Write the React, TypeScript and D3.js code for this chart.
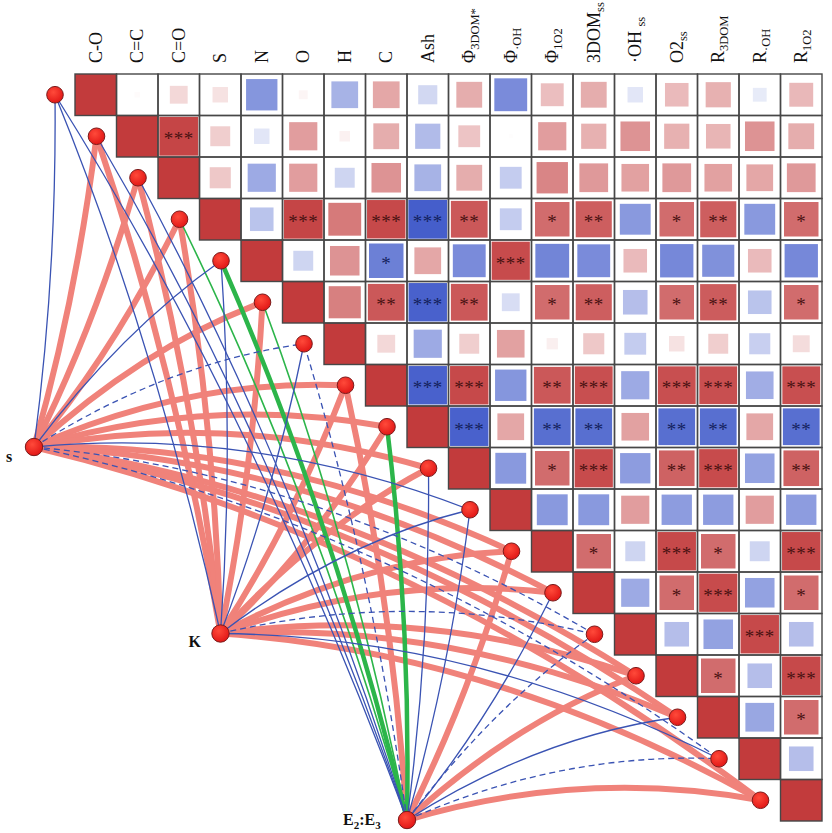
import React from "react";
import * as d3 from "d3";

// ---------- DATA ----------
const variableMain = ["C-O", "C=C", "C=O", "S", "N", "O", "H", "C", "Ash", "Φ", "Φ", "Φ", "3DOM", "·OH ", "O2", "R", "R", "R"];
const variableSub = ["", "", "", "", "", "", "", "", "", "3DOM*", "·OH", "1O2", "ss", "ss", "ss", "3DOM", "·OH", "1O2"];

// upper triangle correlations, row i holds columns i+1..17
const corrUpper: number[][] = [
  [0.02, 0.2, 0.15, -0.62, 0.05, -0.45, 0.45, -0.23, 0.42, -0.68, 0.33, 0.42, -0.15, 0.35, 0.4, -0.12, 0.36],
  [0.95, 0.25, -0.15, 0.5, 0.07, 0.42, -0.4, 0.3, 0.01, 0.5, 0.4, 0.55, 0.4, 0.38, 0.55, 0.42],
  [0.28, -0.5, 0.5, -0.25, 0.55, -0.45, 0.42, -0.3, 0.62, 0.52, 0.48, 0.52, 0.48, 0.45, 0.52],
  [-0.35, 0.95, 0.68, 0.93, -0.95, 0.85, -0.3, 0.75, 0.82, -0.6, 0.75, 0.82, -0.6, 0.75],
  [-0.25, 0.55, -0.75, 0.45, -0.68, 0.92, -0.72, -0.68, 0.35, -0.7, -0.65, 0.35, -0.7],
  [0.65, 0.85, -0.93, 0.85, -0.2, 0.75, 0.82, -0.38, 0.75, 0.83, -0.35, 0.75],
  [0.2, -0.5, 0.25, 0.48, 0.08, 0.28, -0.3, 0.15, 0.25, -0.28, 0.18],
  [-0.93, 0.93, -0.62, 0.85, 0.9, -0.5, 0.9, 0.9, -0.48, 0.9],
  [-0.93, 0.45, -0.85, -0.85, 0.48, -0.85, -0.85, 0.45, -0.85],
  [-0.6, 0.75, 0.92, -0.58, 0.8, 0.92, -0.55, 0.8],
  [-0.6, -0.6, 0.5, -0.58, -0.58, 0.5, -0.58],
  [0.75, -0.25, 0.93, 0.75, -0.25, 0.93],
  [-0.5, 0.75, 0.92, -0.55, 0.75],
  [-0.38, -0.55, 0.93, -0.38],
  [0.75, -0.38, 0.93],
  [-0.52, 0.75],
  [-0.38],
];

const starUpper: number[][] = [
  [0, 0, 0, 0, 0, 0, 0, 0, 0, 0, 0, 0, 0, 0, 0, 0, 0],
  [3, 0, 0, 0, 0, 0, 0, 0, 0, 0, 0, 0, 0, 0, 0, 0],
  [0, 0, 0, 0, 0, 0, 0, 0, 0, 0, 0, 0, 0, 0, 0],
  [0, 3, 0, 3, 3, 2, 0, 1, 2, 0, 1, 2, 0, 1],
  [0, 0, 1, 0, 0, 3, 0, 0, 0, 0, 0, 0, 0],
  [0, 2, 3, 2, 0, 1, 2, 0, 1, 2, 0, 1],
  [0, 0, 0, 0, 0, 0, 0, 0, 0, 0, 0],
  [3, 3, 0, 2, 3, 0, 3, 3, 0, 3],
  [3, 0, 2, 2, 0, 2, 2, 0, 2],
  [0, 1, 3, 0, 2, 3, 0, 2],
  [0, 0, 0, 0, 0, 0, 0],
  [1, 0, 3, 1, 0, 3],
  [0, 1, 3, 0, 1],
  [0, 0, 3, 0],
  [1, 0, 3],
  [0, 1],
  [0],
];

// anchors of the Mantel links
const anchorMain = ["s", "K", "E"];
// link classes: r = salmon thick, G = green thick, g = green thin, b = blue, d = blue dashed
const linkS = ["b", "r", "r", "r", "b", "r", "d", "r", "r", "r", "b", "r", "r", "d", "r", "r", "d", "r"];
const linkK = ["b", "r", "r", "r", "b", "r", "b", "r", "r", "r", "b", "r", "r", "d", "r", "r", "b", "r"];
const linkE = ["b", "b", "b", "g", "G", "g", "d", "r", "G", "b", "b", "r", "b", "d", "r", "b", "d", "r"];

// ---------- STYLE ----------
const W = 832;
const H = 833;
const N = variableMain.length;
const CELL = 41.5;
const GX = 75;
const GY = 74;
const SERIF = "'Liberation Serif', 'DejaVu Serif', serif";

const linkStyle: Record<string, { stroke: string; width: number; dash?: string }> = {
  r: { stroke: "#f0827a", width: 6 },
  G: { stroke: "#2cb54a", width: 4.5 },
  g: { stroke: "#2cb54a", width: 1.6 },
  b: { stroke: "#3a53b3", width: 1.3 },
  d: { stroke: "#3a53b3", width: 1.3, dash: "6 4" },
};
const drawOrder = ["r", "G", "g", "b", "d"];

export default function App() {
  const x = d3.scaleBand<number>().domain(d3.range(N)).range([GX, GX + N * CELL]);
  const y = d3.scaleBand<number>().domain(d3.range(N)).range([GY, GY + N * CELL]);
  const color = d3
    .scaleLinear<string>()
    .domain([-1, 0, 1])
    .range(["#3b55c8", "#ffffff", "#c23b3c"])
    .interpolate(d3.interpolateRgb);
  const side = d3.scaleSqrt().domain([0, 1]).range([0, CELL * 0.96]).clamp(true);

  const nodePos = (i: number): [number, number] => [(x(i) as number) - 20, (y(i) as number) + CELL / 2];
  const anchorStep = d3.scaleLinear().domain([0, 2]).range([0, 373]);
  const anchorPos = (k: number): [number, number] => [34 + anchorStep(k), 447 + anchorStep(k)];

  const allLinks = [linkS, linkK, linkE];
  type L = { k: number; i: number; t: string };
  const links: L[] = [];
  allLinks.forEach((arr, k) => arr.forEach((t, i) => links.push({ k, i, t })));
  links.sort((a, b) => drawOrder.indexOf(a.t) - drawOrder.indexOf(b.t));

  const curve = (k: number, i: number) => {
    const [ax, ay] = anchorPos(k);
    const [nx, ny] = nodePos(i);
    const dx = nx - ax;
    const dy = ny - ay;
    const len = Math.hypot(dx, dy);
    let px = dy / len;
    let py = -dx / len;
    if (px - py < 0) {
      px = -px;
      py = -py;
    }
    const cx = (ax + nx) / 2 + px * 0.035 * len;
    const cy = (ay + ny) / 2 + py * 0.12 * len;
    const p = d3.path();
    p.moveTo(ax, ay);
    p.quadraticCurveTo(cx, cy, nx, ny);
    return p.toString();
  };

  const cells: JSX.Element[] = [];
  for (let i = 0; i < N; i++) {
    for (let j = i; j < N; j++) {
      const cx0 = x(j) as number;
      const cy0 = y(i) as number;
      if (i === j) {
        cells.push(<rect key={`d${i}`} x={cx0} y={cy0} width={CELL} height={CELL} fill={color(1)} />);
        continue;
      }
      const r = corrUpper[i][j - i - 1];
      const st = starUpper[i][j - i - 1];
      const s = side(Math.abs(r));
      const ccx = cx0 + CELL / 2;
      const ccy = cy0 + CELL / 2;
      cells.push(
        <rect key={`c${i}-${j}`} x={ccx - s / 2} y={ccy - s / 2} width={s} height={s} fill={color(r)} />
      );
      if (st > 0) {
        cells.push(
          <text
            key={`s${i}-${j}`}
            x={ccx}
            y={ccy + 9}
            textAnchor="middle"
            fontFamily={SERIF}
            fontSize={19}
            letterSpacing={0.5}
            fill={r > 0 ? "#4a1212" : "#14225e"}
          >
            {"*".repeat(st)}
          </text>
        );
      }
    }
  }
  const grid: JSX.Element[] = [];
  for (let i = 0; i < N; i++) {
    for (let j = i; j < N; j++) {
      grid.push(
        <rect
          key={`g${i}-${j}`}
          x={x(j)}
          y={y(i)}
          width={CELL}
          height={CELL}
          fill="none"
          stroke="#474747"
          strokeWidth={1.4}
        />
      );
    }
  }

  return (
    <svg
      width={W}
      height={H}
      viewBox={`0 0 ${W} ${H}`}
      style={{ position: "absolute", left: 0, top: 0, background: "#fff" }}
    >
      <defs>
        <radialGradient id="nodeGrad" cx="40%" cy="35%" r="70%">
          <stop offset="0%" stopColor="#ff4a3a" />
          <stop offset="100%" stopColor="#e01414" />
        </radialGradient>
      </defs>
      <rect x={0} y={0} width={W} height={H} fill="#fff" />

      {/* links */}
      <g fill="none">
        {links.map((l) => {
          const st = linkStyle[l.t];
          return (
            <path
              key={`l${l.k}-${l.i}`}
              d={curve(l.k, l.i)}
              stroke={st.stroke}
              strokeWidth={st.width}
              strokeDasharray={st.dash}
              strokeLinecap="butt"
            />
          );
        })}
      </g>

      {/* heatmap */}
      <g>{cells}</g>
      <g>{grid}</g>

      {/* column labels */}
      <g fontFamily={SERIF} fontSize={18} fill="#111">
        {variableMain.map((m, i) => (
          <text key={`lab${i}`} transform={`translate(${(x(i) as number) + CELL / 2 + 6},63) rotate(-90)`}>
            {m}
            {variableSub[i] && (
              <tspan dy={4} fontSize={12.5}>
                {variableSub[i]}
              </tspan>
            )}
          </text>
        ))}
      </g>

      {/* variable nodes */}
      <g>
        {d3.range(N).map((i) => {
          const [nx, ny] = nodePos(i);
          return <circle key={`n${i}`} cx={nx} cy={ny} r={8.3} fill="url(#nodeGrad)" stroke="#7a1a1a" strokeWidth={1} />;
        })}
      </g>

      {/* anchors */}
      <g>
        {anchorMain.map((a, k) => {
          const [ax, ay] = anchorPos(k);
          return <circle key={`a${k}`} cx={ax} cy={ay} r={8.7} fill="url(#nodeGrad)" stroke="#7a1a1a" strokeWidth={1} />;
        })}
      </g>
      <g fontFamily={SERIF} fontWeight="bold" fontSize={16} fill="#111">
        <text x={anchorPos(0)[0] - 28} y={anchorPos(0)[1] + 15}>
          {anchorMain[0]}
        </text>
        <text x={anchorPos(1)[0] - 32} y={anchorPos(1)[1] + 13}>
          {anchorMain[1]}
        </text>
        <text x={anchorPos(2)[0] - 64} y={anchorPos(2)[1] + 5}>
          {anchorMain[2]}
          <tspan dy={4} fontSize={11}>2</tspan>
          <tspan dy={-4}>:E</tspan>
          <tspan dy={4} fontSize={11}>3</tspan>
        </text>
      </g>
    </svg>
  );
}
